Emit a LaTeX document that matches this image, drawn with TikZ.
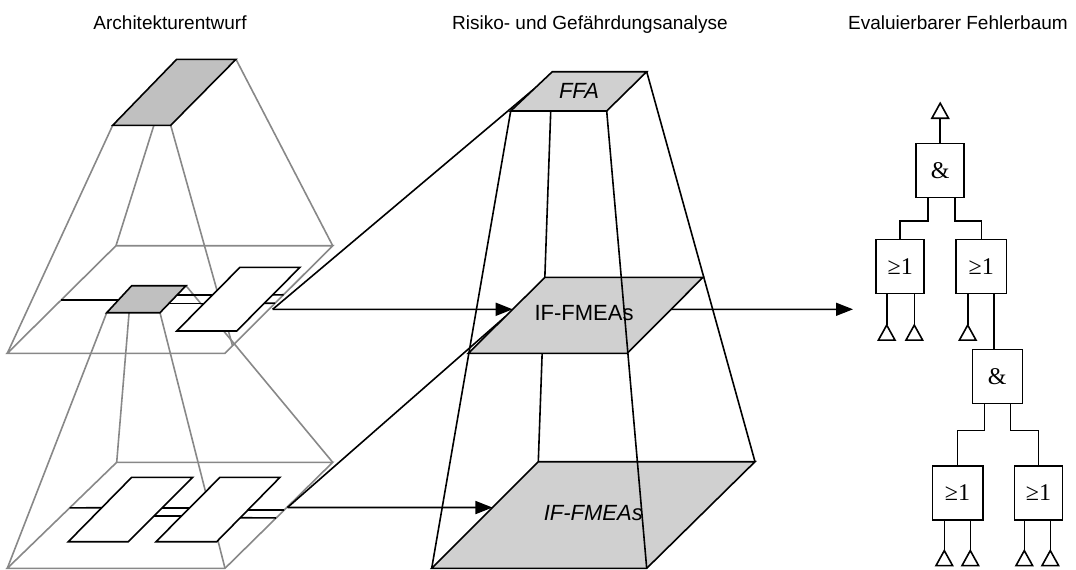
\documentclass[tikz,border=0pt]{standalone}
\usepackage{fontspec}
\setmainfont{Liberation Sans}
\newfontfamily\gatefont{Liberation Serif}
\usetikzlibrary{arrows.meta,calc}

\definecolor{edgegray}{RGB}{136,136,136}
\definecolor{boxgray}{RGB}{192,192,192}
\definecolor{planegray}{RGB}{208,208,208}

\begin{document}
\begin{tikzpicture}[x=1pt,y=-1pt,
  gline/.style={draw=edgegray,line width=1.6pt},
  bline/.style={draw=black,line width=1.6pt},
  compbox/.style={bline,fill=boxgray},
  freebox/.style={bline,fill=white},
  levelplane/.style={bline,fill=planegray},
  flow/.style={bline,-{Triangle[length=17pt,width=13pt]}},
  headline/.style={font=\fontsize{19}{22}\selectfont,anchor=base,inner sep=0pt},
  planetext/.style={font=\fontsize{22}{26}\selectfont,inner sep=0pt},
  gate/.style={bline,fill=white,minimum width=48pt,minimum height=54pt,inner sep=0pt,
               font=\gatefont\fontsize{24}{28}\selectfont},
  event/.pic={\draw[bline] (0,0) -- (-8.3,15) -- (8.3,15) -- cycle;}
]
\useasboundingbox (0,0) rectangle (1076,570);

% ---------- column headings ----------
\node[headline] (h1) at (170,29) {Architekturentwurf};
\node[headline] (h2) at (590,29) {Risiko- und Gefährdungsanalyse};
\node[headline,anchor=base east] (h3) at (1068,29) {Evaluierbarer Fehlerbaum};

% ---------- architecture: upper level ----------
\coordinate (t1) at (176.7,59.3);  \coordinate (t2) at (236,59.3);
\coordinate (t3) at (170.7,125.3); \coordinate (t4) at (112.7,125.3);
\coordinate (p1) at (116,245.7);   \coordinate (p2) at (332.7,245.7);
\coordinate (p3) at (225,353.3);   \coordinate (p4) at (7.3,353.3);

\draw[gline] (t4) -- (p4);
\draw[gline] ($(t4)!0.71!(t3)$) -- (p1);
\draw[gline] (t3) -- ($(p2)!0.93!(p3)$);
\draw[gline] (t2) -- (p2);
\draw[gline] (p1) -- (p2) -- (p3) -- (p4) -- cycle;

% ---------- architecture: lower level ----------
\coordinate (s1) at (131.7,285.7); \coordinate (s2) at (186,285.7);
\coordinate (s3) at (160,312.7);   \coordinate (s4) at (106.7,312.7);
\coordinate (q1) at (116.7,462.3); \coordinate (q2) at (332.7,462.3);
\coordinate (q3) at (225,568.3);   \coordinate (q4) at (7.3,568.3);

\draw[gline] (s4) -- (q4);
\draw[gline] ($(s4)!0.42!(s3)$) -- (q1);
\draw[gline] (s3) -- (q3);
\draw[gline] (s2) -- (q2);
\draw[gline] (q1) -- (q2) -- (q3) -- (q4) -- cycle;

% interfaces, upper level
\draw[bline] ($(p1)!0.505!(p4)$) -- (125,300);
\draw[bline] (175,295) -- (215,295);
\draw[bline] (167,303.3) -- (207,303.3);
\draw[bline] (270,295) -- ($(p2)!0.456!(p3)$);
\draw[bline] (262,303.3) -- ($(p2)!0.534!(p3)$);

% interfaces, lower level
\draw[bline] ($(q1)!0.43!(q4)$) -- (104,507.7);
\draw[bline] (160,507.7) -- (192,507.7);
\draw[bline] (151.5,516) -- (184,516);
\draw[bline] (245.5,510) -- ($(q2)!0.45!(q3)$);
\draw[bline] (238,517.7) -- ($(q2)!0.525!(q3)$);

% components
\draw[compbox] (t1) -- (t2) -- (t3) -- (t4) -- cycle;
\draw[compbox] (s1) -- (s2) -- (s3) -- (s4) -- cycle;
\draw[freebox] (240,267.3) -- (300,267.3) -- (236.7,331) -- (176.7,331) -- cycle;
\draw[freebox] (131.7,477.3) -- (192.7,477.3) -- (128.3,541.7) -- (68.3,541.7) -- cycle;
\draw[freebox] (220,477.3) -- (280,477.3) -- (216.7,541.7) -- (156,541.7) -- cycle;

% ---------- risk and hazard analysis ----------
\coordinate (f1) at (552.3,71.7);  \coordinate (f2) at (646.7,71.7);
\coordinate (f3) at (606.7,111);   \coordinate (f4) at (510.7,111);
\coordinate (m1) at (545,277.3);   \coordinate (m2) at (703,277.3);
\coordinate (m3) at (627.3,353.3); \coordinate (m4) at (468.3,353.3);
\coordinate (b1) at (538.3,461.7); \coordinate (b2) at (755,461.7);
\coordinate (b3) at (646.7,568.3); \coordinate (b4) at (431.7,568.3);

% connection points
\coordinate (upOut) at (272.7,309.3);
\coordinate (loOut) at (287.5,507.5);
\coordinate (ffaIn) at ($(f1)!0.44!(f4)$);
\coordinate (midIn) at ($(m1)!0.421!(m4)$);
\coordinate (midHid) at ($(m1)!0.52!(m4)$);
\coordinate (botIn) at ($(b1)!0.43!(b4)$);
\coordinate (midOut) at ($(m2)!0.421!(m3)$);
\coordinate (treeIn) at (853,309.3);

% traces from the architecture into the analyses
\draw[bline] (upOut) -- (ffaIn);
\draw[bline] (loOut) -- (midHid);

% frustum edges
\draw[bline] (f4) -- (b4);
\draw[bline] ($(f4)!0.417!(f3)$) -- (b1);
\draw[bline] (f2) -- (b2);

% analysis levels
\draw[levelplane] (b1) -- (b2) -- (b3) -- (b4) -- cycle;
\draw[levelplane] (m1) -- (m2) -- (m3) -- (m4) -- cycle;
\draw[levelplane] (f1) -- (f2) -- (f3) -- (f4) -- cycle;

\node[planetext] (ffa) at (579,91) {\itshape FFA};
\node[planetext] (ifm) at (584,313.3) {IF-FMEAs};
\node[planetext] (ifb) at (593.3,513.3) {\itshape IF-FMEAs};

\draw[bline] (f3) -- (b3);

% flows
\draw[flow] (upOut) -- (midIn);
\draw[flow] (loOut) -- (botIn);
\draw[flow] (midOut) -- (treeIn);

% ---------- fault tree ----------
\node[gate] (and1) at (940.2,170.3) {\&};
\node[gate] (or1) at (900.2,266.3) {≥1};
\node[gate,minimum width=50.7pt] (or2) at (981.3,266.3) {≥1};
\node[gate,minimum width=50pt] (and2) at (997.3,376.3) {\&};
\node[gate,minimum width=50.4pt] (or3) at (957.5,492.8) {≥1};
\node[gate] (or4) at (1038.5,492.8) {≥1};

% top event
\coordinate (top) at ($(and1.north)+(0,-39.3)$);
\draw[bline] (and1.north) -- ($(top)+(0,15)$);
\pic at (top) {event};

% AND1 -> OR1, OR2
\draw[bline] ($(and1.south)+(-12,0)$) |- ($(or1.north)+(0,-17.6)$) -- (or1.north);
\draw[bline] ($(and1.south)+(14.5,0)$) |- ($(or2.north)+(0,-17.6)$) -- (or2.north);

% OR1 basic events
\coordinate (e1) at ($(or1.south)+(-13.5,31)$);
\coordinate (e2) at ($(or1.south)+(14.1,31)$);
\draw[bline] (or1.south -| e1) -- (e1);
\draw[bline] (or1.south -| e2) -- (e2);
\pic at (e1) {event};
\pic at (e2) {event};

% OR2 -> basic event, AND2
\coordinate (e3) at ($(or2.south)+(-13.6,31)$);
\draw[bline] (or2.south -| e3) -- (e3);
\pic at (e3) {event};
\coordinate (o2r) at ($(or2.south)+(12.7,0)$);
\draw[bline] (o2r) -- (o2r |- and2.north);

% AND2 -> OR3, OR4
\draw[bline] ($(and2.south)+(-13,0)$) |- ($(or3.north)+(0,-34.7)$) -- (or3.north);
\draw[bline] ($(and2.south)+(13,0)$) |- ($(or4.north)+(0,-34.7)$) -- (or4.north);

% OR3, OR4 basic events
\coordinate (e4) at ($(or3.south)+(-13.2,30)$);
\coordinate (e5) at ($(or3.south)+(12.8,30)$);
\coordinate (e6) at ($(or4.south)+(-14.2,30)$);
\coordinate (e7) at ($(or4.south)+(11.8,30)$);
\foreach \e/\g in {e4/or3,e5/or3,e6/or4,e7/or4}{
  \draw[bline] (\g.south -| \e) -- (\e);
  \pic at (\e) {event};
}
\end{tikzpicture}
\end{document}
